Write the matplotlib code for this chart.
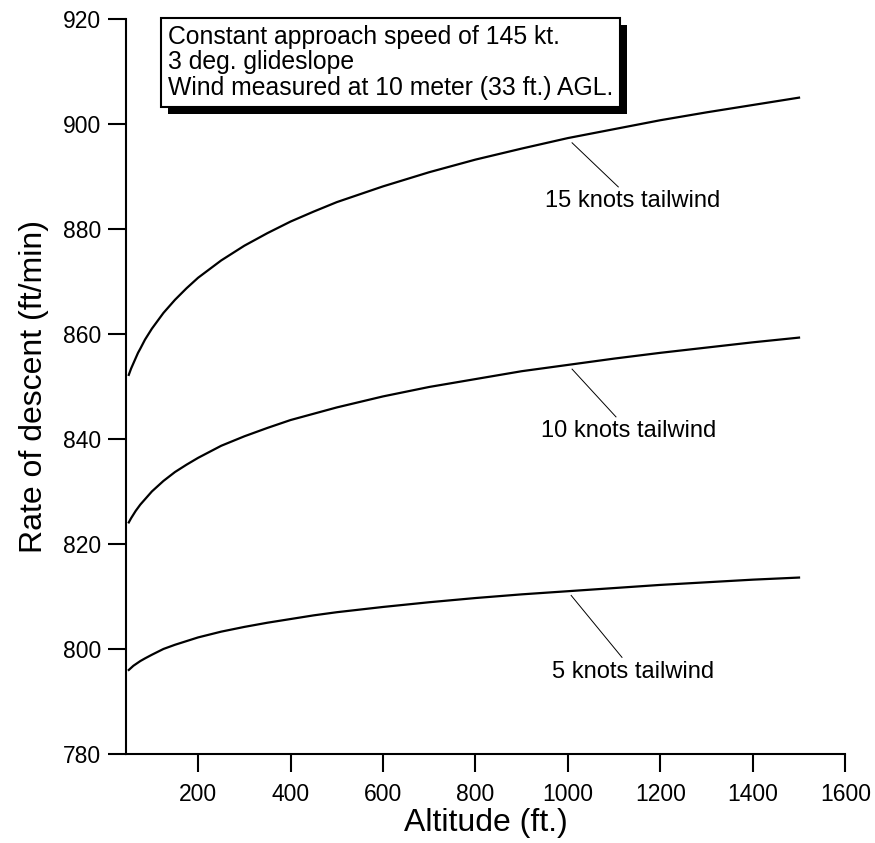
import matplotlib
matplotlib.use("Agg")
import matplotlib.pyplot as plt
import matplotlib.patheffects as pe

plt.rcParams["font.family"] = ["Liberation Sans", "DejaVu Sans"]

# altitude (ft) and rate of descent (ft/min)
altitude = [50, 55, 60, 65, 70, 75, 85, 100, 125, 150, 175, 200, 250, 300,
            350, 400, 450, 500, 600, 700, 800, 900, 1000, 1100, 1200, 1300,
            1400, 1500]
rod_15kt = [852.2, 853.4, 854.4, 855.4, 856.4, 857.2, 858.9, 861.0, 864.0,
            866.5, 868.7, 870.7, 874.0, 876.8, 879.2, 881.4, 883.3, 885.1,
            888.1, 890.8, 893.2, 895.3, 897.3, 899.0, 900.7, 902.2, 903.6,
            905.0]
rod_10kt = [824.1, 824.9, 825.6, 826.3, 826.9, 827.5, 828.5, 830.0, 832.0,
            833.7, 835.1, 836.4, 838.7, 840.5, 842.1, 843.6, 844.8, 846.0,
            848.1, 849.9, 851.4, 852.9, 854.1, 855.3, 856.4, 857.4, 858.4,
            859.3]
rod_5kt = [796.0, 796.4, 796.8, 797.1, 797.4, 797.7, 798.2, 798.9, 800.0,
           800.8, 801.5, 802.2, 803.3, 804.2, 805.0, 805.7, 806.4, 807.0,
           808.0, 808.9, 809.7, 810.4, 811.0, 811.6, 812.2, 812.7, 813.2,
           813.6]

# (values, label, leader tip on curve, leader end, label centre)
series = [
    (rod_15kt, "15 knots tailwind", (1009, 896.4), (1109, 888.0), (1140, 885.3)),
    (rod_10kt, "10 knots tailwind", (1009, 853.3), (1104, 844.2), (1131, 841.5)),
    (rod_5kt, "5 knots tailwind", (1007, 810.2), (1117, 798.4), (1142, 795.6)),
]

xticks = [200, 400, 600, 800, 1000, 1200, 1400, 1600]
yticks = [780, 800, 820, 840, 860, 880, 900, 920]

note = ("Constant approach speed of 145 kt.\n"
        "3 deg. glideslope\n"
        "Wind measured at 10 meter (33 ft.) AGL.")

fig = plt.figure(figsize=(8.75, 8.43), dpi=100)
ax = fig.add_axes([0.144, 0.1056, 0.822, 0.872])

for rod, label, tip, tail, txt in series:
    ax.plot(altitude, rod, color="black", lw=1.6, solid_joinstyle="round")
    ax.plot([tip[0], tail[0]], [tip[1], tail[1]], color="black", lw=0.7)
    ax.text(txt[0], txt[1], label, ha="center", va="center", fontsize=17)

ax.set_xlim(44, 1600)
ax.set_ylim(780, 920)
ax.set_xticks(xticks)
ax.set_yticks(yticks)

for side in ("top", "right"):
    ax.spines[side].set_visible(False)
for side in ("left", "bottom"):
    ax.spines[side].set_linewidth(1.5)
ax.tick_params(direction="out", length=13, width=1.5, labelsize=16.5)
ax.tick_params(axis="x", pad=8)
ax.tick_params(axis="y", pad=5)

ax.set_xlabel("Altitude (ft.)", fontsize=23, labelpad=1)
ax.set_ylabel("Rate of descent (ft/min)", fontsize=23, labelpad=10)

t = ax.text(0.0584, 0.992, note, transform=ax.transAxes, ha="left", va="top",
            fontsize=17.8, linespacing=1.08,
            bbox=dict(boxstyle="square,pad=0.28", fc="white", ec="black", lw=1.5))
t.get_bbox_patch().set_path_effects([
    pe.SimplePatchShadow(offset=(5, -5), shadow_rgbFace="black", alpha=1.0),
    pe.Normal(),
])

fig.savefig("out.png", dpi=100)
